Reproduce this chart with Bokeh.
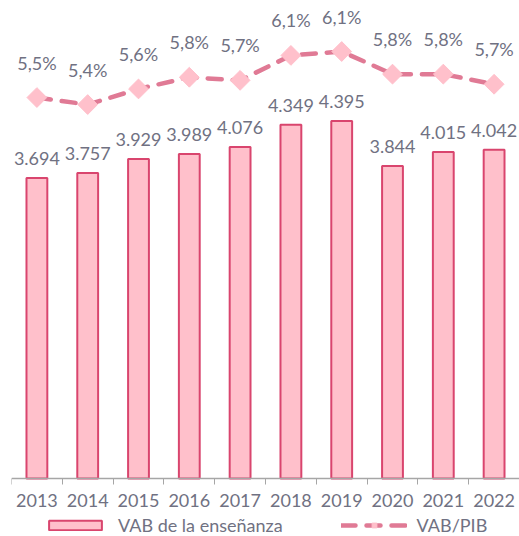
from bokeh.plotting import figure
from bokeh.models import Range1d, FixedTicker, Legend, LegendItem, ColumnDataSource
from bokeh.embed import file_html
from bokeh.resources import INLINE
from bokeh.core.properties import value
import math

years = ["2013", "2014", "2015", "2016", "2017", "2018", "2019", "2020", "2021", "2022"]
vab = [3694, 3757, 3929, 3989, 4076, 4349, 4395, 3844, 4015, 4042]
ratio = [5.52, 5.43, 5.63, 5.78, 5.74, 6.06, 6.11, 5.82, 5.82, 5.69]

FONT = "Lato"
TXT = "#707182"
FS = "18px"

xs = [i + 0.5 for i in range(len(years))]
vab_lbl = [f"{v:,}".replace(",", ".") for v in vab]
ratio_lbl = [f"{r:.1f}".replace(".", ",") + "%" for r in ratio]

src = ColumnDataSource(dict(x=xs, vab=vab, ratio=ratio, vl=vab_lbl, rl=ratio_lbl))

p = figure(width=519, height=536, output_backend="svg", toolbar_location=None,
           x_range=Range1d(0, len(years)), y_range=Range1d(-713, 5878),
           min_border_left=11, min_border_right=0, min_border_top=0, min_border_bottom=0)
p.outline_line_color = None
p.xgrid.visible = False
p.ygrid.visible = False
p.yaxis.visible = False
p.extra_y_ranges = {"r": Range1d(-0.108, 6.764)}

bars = p.vbar(x="x", top="vab", width=0.41, source=src, fill_color="#FFC0CB",
              line_color="#D9456E", line_width=2)
p.text(x="x", y="vab", text="vl", source=src, text_align="center", text_baseline="bottom",
       y_offset=-13, text_font=value(FONT), text_font_size=FS, text_color=TXT)

ln = p.line(x="x", y="ratio", source=src, y_range_name="r", line_color="#E07A95",
            line_width=4.5, line_dash="14 11", line_cap="round")
mk = p.scatter(x="x", y="ratio", source=src, y_range_name="r", marker="square", size=14,
               angle=math.pi / 4, fill_color="#FFC0CB", line_color="#FFC0CB")
p.text(x="x", y="ratio", text="rl", source=src, y_range_name="r", text_align="center",
       text_baseline="bottom", y_offset=-24, text_font=value(FONT), text_font_size=FS,
       text_color=TXT)

ax = p.xaxis[0]
ax.fixed_location = 0
ax.ticker = FixedTicker(ticks=xs, minor_ticks=list(range(len(years) + 1)))
ax.major_label_overrides = {x: y for x, y in zip(xs, years)}
ax.major_tick_line_color = None
ax.major_tick_out = 0
ax.major_tick_in = 0
ax.minor_tick_out = 6
ax.minor_tick_in = 0
ax.minor_tick_line_color = "#A6A6A6"
ax.axis_line_color = "#A6A6A6"
ax.axis_line_width = 1.5
ax.major_label_standoff = 9
ax.major_label_text_font = FONT
ax.major_label_text_font_size = FS
ax.major_label_text_color = TXT

legend = Legend(items=[LegendItem(label="VAB de la enseñanza", renderers=[bars]),
                       LegendItem(label="VAB/PIB", renderers=[ln, mk])],
                orientation="horizontal", glyph_width=66, glyph_height=12,
                label_text_font=FONT, label_text_font_size=FS, label_text_color=TXT,
                spacing=58, padding=0, margin=0, border_line_color=None,
                background_fill_alpha=0, label_standoff=10, location=(31, 0))
p.add_layout(legend, "center")

open("out.html", "w").write(file_html(p, INLINE))
